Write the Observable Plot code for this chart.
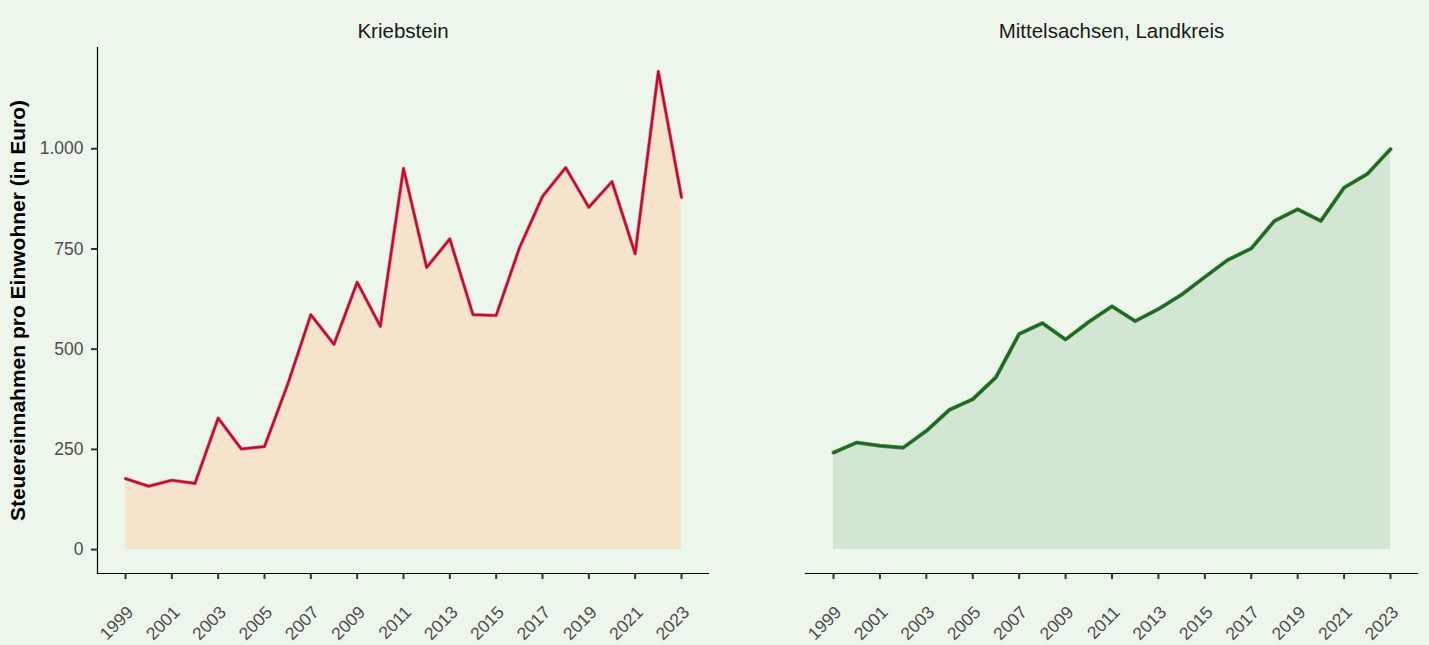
<!DOCTYPE html>
<html>
<head>
<meta charset="utf-8">
<script src="https://cdn.jsdelivr.net/npm/d3@7"></script>
<script src="https://cdn.jsdelivr.net/npm/@observablehq/plot@0.6"></script>
<style>
  html, body { margin: 0; padding: 0; background: #EDF6EB; }
  #chart { display: flex; width: 1429px; height: 645px; overflow: hidden; }
  #chart svg { display: block; overflow: visible; }
</style>
</head>
<body>
<div id="chart"></div>
<script>
// ---- Data ----
const years = [1999, 2000, 2001, 2002, 2003, 2004, 2005, 2006, 2007, 2008, 2009, 2010, 2011, 2012, 2013, 2014, 2015, 2016, 2017, 2018, 2019, 2020, 2021, 2022, 2023];
const kriebstein = [177, 158, 173, 165, 328, 251, 257, 412, 586, 512, 667, 557, 951, 704, 775, 586, 584, 752, 881, 953, 854, 918, 738, 1193, 879];
const mittelsachsen = [242, 267, 259, 254, 296, 349, 375, 430, 538, 565, 524, 568, 607, 570, 600, 636, 680, 723, 751, 820, 849, 820, 903, 937, 999];
const panelTitles = ["Kriebstein", "Mittelsachsen, Landkreis"];
const xTicks = [1999, 2001, 2003, 2005, 2007, 2009, 2011, 2013, 2015, 2017, 2019, 2021, 2023];
const yTicks = [0, 250, 500, 750, 1000];
const yLabel = "Steuereinnahmen pro Einwohner (in Euro)";

const deFormat = d3.formatLocale({decimal: ",", thousands: ".", grouping: [3], currency: ["", " €"]}).format(",");
const FONT = "'Liberation Sans', Arial, Helvetica, sans-serif";

function panel({title, values, fill, halo, stroke, strokeWidth, showY, width, marginLeft, marginRight}) {
  const data = years.map((year, i) => ({year, value: values[i]}));
  const marks = [
    Plot.areaY(data, {x: "year", y: "value", fill}),
    Plot.lineY(data, {x: "year", y: "value", stroke: halo, strokeWidth: strokeWidth + 1.3}),
    Plot.lineY(data, {x: "year", y: "value", stroke, strokeWidth}),
    Plot.frame({anchor: "bottom", stroke: "#000", strokeWidth: 1.2}),
    Plot.axisX({ticks: xTicks, tickSize: 6, tickFormat: () => "", stroke: "#333", strokeWidth: 2, label: null}),
    Plot.axisX({ticks: xTicks, tickSize: 0, tickPadding: 36, tickRotate: -45, textAnchor: "end", lineAnchor: "middle",
      dx: 5, fill: "#4d4d4d", fontSize: 17.5, tickFormat: d => String(d), label: null}),
    Plot.text([title], {frameAnchor: "top", dy: -24, fontSize: 20.5, fill: "#1a1a1a", text: d => d})
  ];
  if (showY) {
    marks.push(
      Plot.frame({anchor: "left", stroke: "#000", strokeWidth: 1.2}),
      Plot.axisY({ticks: yTicks, tickSize: 6, tickPadding: 8, tickFormat: deFormat, stroke: "#333", strokeWidth: 2,
        fill: "#4d4d4d", fontSize: 17.5, label: null}),
      Plot.text([yLabel], {frameAnchor: "left", rotate: -90, dx: -79, textAnchor: "middle", lineAnchor: "middle",
        fontSize: 21, fontWeight: "bold", fill: "#000", text: d => d})
    );
  }
  return Plot.plot({
    width, height: 645,
    marginTop: 47, marginBottom: 72, marginLeft, marginRight,
    x: {domain: [1999, 2023], insetLeft: 28, insetRight: 27, label: null},
    y: {domain: [-59.65, 1252.65], label: null, axis: showY ? undefined : null},
    style: {background: "transparent", fontFamily: FONT, overflow: "visible"},
    marks
  });
}

const chart = document.getElementById("chart");
chart.append(panel({title: panelTitles[0], values: kriebstein, fill: "#F5E3CB", halo: "#DE7083", stroke: "#BE0A2E", strokeWidth: 2.2,
  showY: true, width: 757, marginLeft: 97, marginRight: 49}));
chart.append(panel({title: panelTitles[1], values: mittelsachsen, fill: "#D3E6D3", halo: "#4E8A4E", stroke: "#1B6A1E", strokeWidth: 2.6,
  showY: false, width: 672, marginLeft: 48, marginRight: 12}));
</script>
</body>
</html>
